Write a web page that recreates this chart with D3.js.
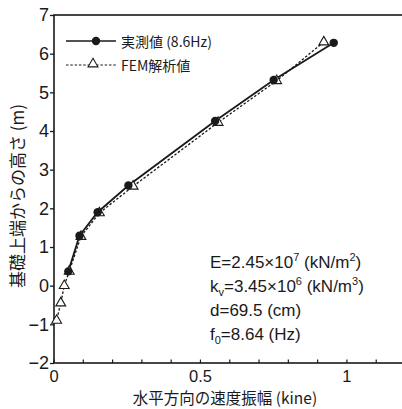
<!DOCTYPE html>
<html>
<head>
<meta charset="utf-8">
<script src="https://cdn.jsdelivr.net/npm/d3@7"></script>
<style>
  html, body { margin: 0; padding: 0; background: #fff; }
  svg { display: block; }
  text { font-family: "Liberation Sans", Arial, "Noto Sans CJK JP", sans-serif; fill: #1a1a1a; }
  .jp { font-family: "Noto Sans CJK JP", "Liberation Sans", sans-serif; fill: #1a1a1a; }
</style>
</head>
<body>
<svg id="chart" width="402" height="409"></svg>
<script>
// Measured response (8.6 Hz): velocity amplitude [kine] vs. height above footing top [m]
const measuredVel    = [0.955, 0.75, 0.55, 0.254, 0.149, 0.087, 0.049];
const measuredHeight = [6.28, 5.32, 4.26, 2.59, 1.90, 1.29, 0.37];

// FEM analysis result
const femVel    = [0.921, 0.76, 0.56, 0.27, 0.155, 0.092, 0.052, 0.035, 0.023, 0.009];
const femHeight = [6.30, 5.30, 4.22, 2.57, 1.88, 1.27, 0.37, 0.00, -0.45, -0.90];

// Axis ticks
const yTicks = [-2, -1, 0, 1, 2, 3, 4, 5, 6, 7];
const xMajorTicks = [0, 0.5, 1];
const xMinorTicks = [0, 0.1, 0.2, 0.3, 0.4, 0.5, 0.6, 0.7, 0.8, 0.9, 1.0, 1.1, 1.2];

// Parameter annotations: [text, 0 = normal, -1 = superscript, 1 = subscript]
const paramLines = [
  [["E=2.45×10", 0], ["7", -1], [" (kN/m", 0], ["2", -1], [")", 0]],
  [["k", 0], ["v", 1], ["=3.45×10", 0], ["6", -1], [" (kN/m", 0], ["3", -1], [")", 0]],
  [["d=69.5 (cm)", 0]],
  [["f", 0], ["0", 1], ["=8.64 (Hz)", 0]]
];

const svg = d3.select("#chart");
const ink = "#1a1a1a";

const x = d3.scaleLinear().domain([0, 1.2]).range([54, 405.5]);
const y = d3.scaleLinear().domain([-2, 7]).range([363, 15]);

// Frame
svg.append("rect")
  .attr("x", x(0)).attr("y", y(7))
  .attr("width", x(1.2) - x(0)).attr("height", y(-2) - y(7))
  .attr("fill", "none").attr("stroke", ink).attr("stroke-width", 1.6);

// Y axis (ticks outward)
const yAxis = svg.append("g").attr("transform", `translate(${x(0)},0)`)
  .call(d3.axisLeft(y).tickValues(yTicks).tickSize(4).tickPadding(1)
    .tickFormat(d => d < 0 ? "\u2212" + Math.abs(d) : d));
yAxis.select(".domain").remove();
yAxis.selectAll("line").attr("stroke", ink).attr("stroke-width", 1.3);
yAxis.selectAll("text").attr("font-size", 18).attr("fill", ink)
  .style("font-family", "'Liberation Sans', Arial, sans-serif");

// X axis: minor ticks inward
const xAxis = svg.append("g").attr("transform", `translate(0,${y(-2)})`);
xAxis.selectAll("line.minor").data(xMinorTicks).join("line")
  .attr("x1", d => x(d)).attr("x2", d => x(d))
  .attr("y1", 0).attr("y2", -3.5)
  .attr("stroke", ink).attr("stroke-width", 1.2);
xAxis.selectAll("text").data(xMajorTicks).join("text")
  .attr("x", d => x(d)).attr("y", 18.5)
  .attr("text-anchor", "middle").attr("font-size", 16.5)
  .text(d => d);

// Axis titles
svg.append("text").attr("class", "jp")
  .attr("transform", `translate(24,196) rotate(-90)`)
  .attr("text-anchor", "middle").attr("font-size", 17)
  .text("基礎上端からの高さ (m)");
svg.append("text").attr("class", "jp")
  .attr("x", 225).attr("y", 403.5)
  .attr("text-anchor", "middle").attr("font-size", 15.5)
  .text("水平方向の速度振幅 (kine)");

// Series data
const measured = measuredVel.map((v, i) => ({ v, h: measuredHeight[i] }));
const fem = femVel.map((v, i) => ({ v, h: femHeight[i] }));
const line = d3.line().x(d => x(d.v)).y(d => y(d.h));
const tri = d3.symbol().type(d3.symbolTriangle).size(42);

svg.append("path").datum(fem).attr("d", line)
  .attr("fill", "none").attr("stroke", ink).attr("stroke-width", 1.3)
  .attr("stroke-dasharray", "2.5,1.8");
svg.append("path").datum(measured).attr("d", line)
  .attr("fill", "none").attr("stroke", ink).attr("stroke-width", 1.8);

svg.selectAll("path.fem").data(fem).join("path")
  .attr("class", "fem").attr("d", tri)
  .attr("transform", d => `translate(${x(d.v)},${y(d.h)})`)
  .attr("fill", "#fff").attr("stroke", ink).attr("stroke-width", 1.1);
svg.selectAll("circle.meas").data(measured).join("circle")
  .attr("class", "meas")
  .attr("cx", d => x(d.v)).attr("cy", d => y(d.h)).attr("r", 4.2)
  .attr("fill", ink);

// Legend
const lg = svg.append("g");
lg.append("line").attr("x1", 66).attr("x2", 116).attr("y1", 41).attr("y2", 41)
  .attr("stroke", ink).attr("stroke-width", 1.6);
lg.append("circle").attr("cx", 96).attr("cy", 41).attr("r", 4.2).attr("fill", ink);
lg.append("text").attr("class", "jp").attr("x", 121).attr("y", 46.5)
  .attr("font-size", 14).text("実測値 (8.6Hz)");
lg.append("line").attr("x1", 66).attr("x2", 116).attr("y1", 65).attr("y2", 65)
  .attr("stroke", ink).attr("stroke-width", 1.2).attr("stroke-dasharray", "2.5,1.8");
lg.append("path").attr("d", tri).attr("transform", "translate(93,64)")
  .attr("fill", "#fff").attr("stroke", ink).attr("stroke-width", 1.1);
lg.append("text").attr("class", "jp").attr("x", 121).attr("y", 70.5)
  .attr("font-size", 14).text("FEM解析値");

// Parameter block
const pg = svg.append("g");
paramLines.forEach((parts, i) => {
  const t = pg.append("text").attr("x", 210).attr("y", 268 + i * 24)
    .attr("font-size", 17);
  let prev = 0;
  parts.forEach(([s, shift]) => {
    const off = shift === -1 ? -7 : shift === 1 ? 4 : 0;
    t.append("tspan")
      .attr("dy", off - prev)
      .attr("font-size", shift === 0 ? 17 : 11)
      .text(s);
    prev = off;
  });
});
</script>
</body>
</html>
